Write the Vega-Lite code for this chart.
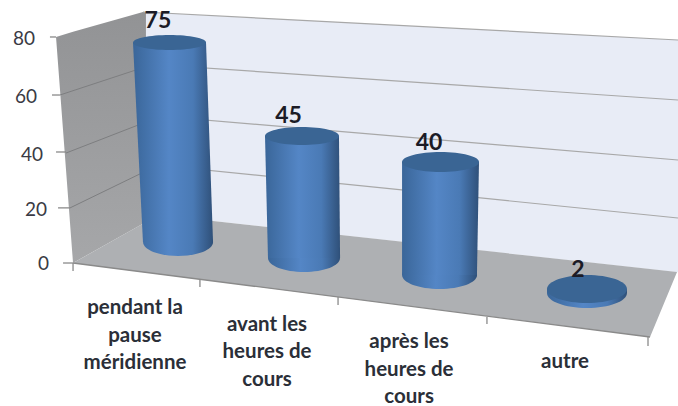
{
"$schema":"https://vega.github.io/schema/vega-lite/v6.json",
"width":678,"height":406,"padding":0,"autosize":{"type":"none"},
"background":"white",
"config":{"view":{"stroke":null},"font":"Lato"},
"resolve":{"scale":{"shape":"independent"}},
"datasets":{
"backWall":[{"x":1.059,"y":89.24,"y2":89.24},{"x":1.081,"y":89.17,"y2":14.58},{"x":1.578,"y":87.94,"y2":14.93},{"x":5.022,"y":79.29,"y2":-3.3}],
"leftWall":[{"x":0.415,"y":80.36,"y2":80.36},{"x":0.541,"y":82.2,"y2":0},{"x":1.059,"y":89.24,"y2":14.0},{"x":1.081,"y":89.17,"y2":14.58}],
"floor":[{"x":0.541,"y":0,"y2":0},{"x":1.081,"y":14.58,"y2":-3.38},{"x":1.578,"y":14.93,"y2":-6.4},{"x":4.815,"y":-2.13,"y2":-26.31},{"x":5.015,"y":-3.2,"y2":-3.2}],
"grid":[
{"id":"g80","x":1.059,"y":89.24},{"id":"g80","x":5.022,"y":79.29},
{"id":"g60","x":1.081,"y":70.76},{"id":"g60","x":5.022,"y":57.96},
{"id":"g40","x":1.081,"y":52.62},{"id":"g40","x":5.022,"y":36.62},
{"id":"g20","x":1.081,"y":35.2},{"id":"g20","x":5.022,"y":16.0}],
"sideGrid":[
{"id":"g60","x":0.444,"y":59.73},{"id":"g60","x":1.081,"y":69.8},
{"id":"g40","x":0.489,"y":39.1},{"id":"g40","x":1.081,"y":50.13},
{"id":"g20","x":0.519,"y":19.6},{"id":"g20","x":1.081,"y":32.71}],
"ticks":[
{"id":"front","x":0.541,"y":0},{"id":"front","x":4.815,"y":-26.31},
{"id":"x0","x":0.541,"y":0},{"id":"x0","x":0.541,"y":-2.84},
{"id":"x1","x":1.481,"y":-6.04},{"id":"x1","x":1.481,"y":-8.53},
{"id":"x2","x":2.504,"y":-12.09},{"id":"x2","x":2.504,"y":-14.93},
{"id":"x3","x":3.607,"y":-19.2},{"id":"x3","x":3.607,"y":-21.69},
{"id":"x4","x":4.8,"y":-26.31},{"id":"x4","x":4.8,"y":-29.51},
{"id":"y80","x":0.37,"y":80.36},{"id":"y80","x":0.415,"y":80.36},
{"id":"y60","x":0.385,"y":59.73},{"id":"y60","x":0.444,"y":59.73},
{"id":"y40","x":0.415,"y":39.47},{"id":"y40","x":0.489,"y":39.47},
{"id":"y20","x":0.43,"y":19.6},{"id":"y20","x":0.519,"y":19.6},
{"id":"y0","x":0.467,"y":0},{"id":"y0","x":0.541,"y":0}],
"bodies":[
{"category":"pendant la pause méridienne","x":0.985,"x2":1.526,"y":78.4},{"category":"pendant la pause méridienne","x":1.059,"x2":1.578,"y":7.47},
{"category":"avant les heures de cours","x":1.963,"x2":2.511,"y":45.16},{"category":"avant les heures de cours","x":1.985,"x2":2.519,"y":1.78},
{"category":"après les heures de cours","x":2.978,"x2":3.548,"y":35.91},{"category":"après les heures de cours","x":2.978,"x2":3.533,"y":-4.27},
{"category":"autre","x":4.052,"x2":4.644,"y":-9.24},{"category":"autre","x":4.052,"x2":4.644,"y":-10.67}],
"tops":[
{"category":"pendant la pause méridienne","x":1.256,"y":78.4},
{"category":"avant les heures de cours","x":2.237,"y":45.16},
{"category":"après les heures de cours","x":3.263,"y":35.91},
{"category":"autre","x":4.348,"y":-9.24}],
"bottoms":[
{"category":"pendant la pause méridienne","x":1.319,"y":7.47},
{"category":"avant les heures de cours","x":2.252,"y":1.78},
{"category":"après les heures de cours","x":3.256,"y":-4.27},
{"category":"autre","x":4.348,"y":-10.67}],
"values":[
{"category":"pendant la pause méridienne","value":75,"x":1.17,"y":86.04},
{"category":"avant les heures de cours","value":45,"x":2.137,"y":52.44},
{"category":"après les heures de cours","value":40,"x":3.178,"y":42.67},
{"category":"autre","value":2,"x":4.281,"y":-2.49}],
"catLabels":[
{"label":"pendant la\npause\nméridienne","x":1.0,"y":-16},
{"label":"avant les\nheures de\ncours","x":1.978,"y":-22.04},
{"label":"après les\nheures de\ncours","x":3.03,"y":-28.1},
{"label":"autre","x":4.185,"y":-35.2}],
"axisLabels":[
{"label":"80","x":0.259,"y":79.64},
{"label":"60","x":0.274,"y":59.02},
{"label":"40","x":0.319,"y":38.4},
{"label":"20","x":0.348,"y":18.84},
{"label":"0","x":0.363,"y":-0.36}]
},
"encoding":{
"x":{"field":"x","type":"quantitative","scale":{"domain":[0,5.0222],"nice":false,"zero":false},"axis":null},
"y":{"field":"y","type":"quantitative","scale":{"domain":[-50.84,93.51],"nice":false,"zero":false},"axis":null}
},
"layer":[
{"data":{"name":"backWall"},"mark":{"type":"area","fill":"#e8ecf6"},"encoding":{"y2":{"field":"y2"}}},
{"data":{"name":"leftWall"},"mark":{"type":"area","fill":{"gradient":"linear","x1":0,"y1":0,"x2":0,"y2":1,"stops":[{"offset":0,"color":"#929395"},{"offset":1,"color":"#a6a7a9"}]}},"encoding":{"y2":{"field":"y2"}}},
{"data":{"name":"floor"},"mark":{"type":"area","fill":"#aeb0b3"},"encoding":{"y2":{"field":"y2"}}},
{"data":{"name":"grid"},"mark":{"type":"line","color":"#a8a8a8","strokeWidth":1.2},"encoding":{"detail":{"field":"id"}}},
{"data":{"name":"sideGrid"},"mark":{"type":"line","color":"#7d7e80","strokeWidth":1},"encoding":{"detail":{"field":"id"}}},
{"data":{"name":"ticks"},"mark":{"type":"line","color":"#8a8a8a","strokeWidth":1.3},"encoding":{"detail":{"field":"id"}}},
{"data":{"name":"bottoms"},"transform":[{"filter":"datum.category !== 'pendant la pause méridienne'"}],"mark":{"type":"point","filled":true,"opacity":1,"size":4,"fill":{"gradient":"linear","x1":0,"y1":0,"x2":1,"y2":0,"stops":[{"offset":0,"color":"#3a6699"},{"offset":0.45,"color":"#5486c6"},{"offset":0.75,"color":"#4a7ab5"},{"offset":1,"color":"#2f5079"}]}},"encoding":{"shape":{"field":"category","legend":null,"scale":{"domain":["avant les heures de cours","après les heures de cours","autre"],"range":["M-36,0 A36,14 0 1 1 36,0 A36,14 0 1 1 -36,0 Z","M-37.5,0 A37.5,14 0 1 1 37.5,0 A37.5,14 0 1 1 -37.5,0 Z","M-40,0 A40,15 0 1 1 40,0 A40,15 0 1 1 -40,0 Z"]}}}},
{"data":{"name":"bottoms"},"transform":[{"filter":"datum.category === 'pendant la pause méridienne'"}],"mark":{"type":"point","filled":true,"opacity":1,"size":4,"shape":"M-35,0 A35,14 0 1 1 35,0 A35,14 0 1 1 -35,0 Z","fill":{"gradient":"linear","x1":0,"y1":0,"x2":1,"y2":0,"stops":[{"offset":0,"color":"#416fa6"},{"offset":0.37,"color":"#5486c6"},{"offset":0.71,"color":"#4a7ab5"},{"offset":1,"color":"#2f5079"}]}}},
{"data":{"name":"bodies"},"mark":{"type":"area","orient":"horizontal","fill":{"gradient":"linear","x1":0,"y1":0,"x2":1,"y2":0,"stops":[{"offset":0,"color":"#3a6699"},{"offset":0.45,"color":"#5486c6"},{"offset":0.75,"color":"#4a7ab5"},{"offset":1,"color":"#2f5079"}]}},"encoding":{"x2":{"field":"x2"},"detail":{"field":"category"}}},
{"data":{"name":"tops"},"mark":{"type":"point","filled":true,"opacity":1,"size":4,"fill":"#3a6594"},"encoding":{"shape":{"field":"category","legend":null,"scale":{"domain":["pendant la pause méridienne","avant les heures de cours","après les heures de cours","autre"],"range":["M-36.5,0 A36.5,7.5 0 1 1 36.5,0 A36.5,7.5 0 1 1 -36.5,0 Z","M-37,0 A37,9 0 1 1 37,0 A37,9 0 1 1 -37,0 Z","M-38.5,0 A38.5,10 0 1 1 38.5,0 A38.5,10 0 1 1 -38.5,0 Z","M-40,0 A40,14 0 1 1 40,0 A40,14 0 1 1 -40,0 Z"]}}}},
{"data":{"name":"values"},"mark":{"type":"text","font":"Lato","fontWeight":"bold","fontSize":23,"color":"#1b1b26","baseline":"middle","align":"center"},"encoding":{"text":{"field":"value","type":"quantitative"}}},
{"data":{"name":"catLabels"},"mark":{"type":"text","font":"Lato","fontWeight":"bold","fontSize":20.5,"color":"#2b2f38","baseline":"middle","align":"center","lineBreak":"\n","lineHeight":27.5},"encoding":{"text":{"field":"label"}}},
{"data":{"name":"axisLabels"},"mark":{"type":"text","font":"Lato","fontSize":19,"color":"#3a3a44","baseline":"middle","align":"right"},"encoding":{"text":{"field":"label"}}}
]
}
